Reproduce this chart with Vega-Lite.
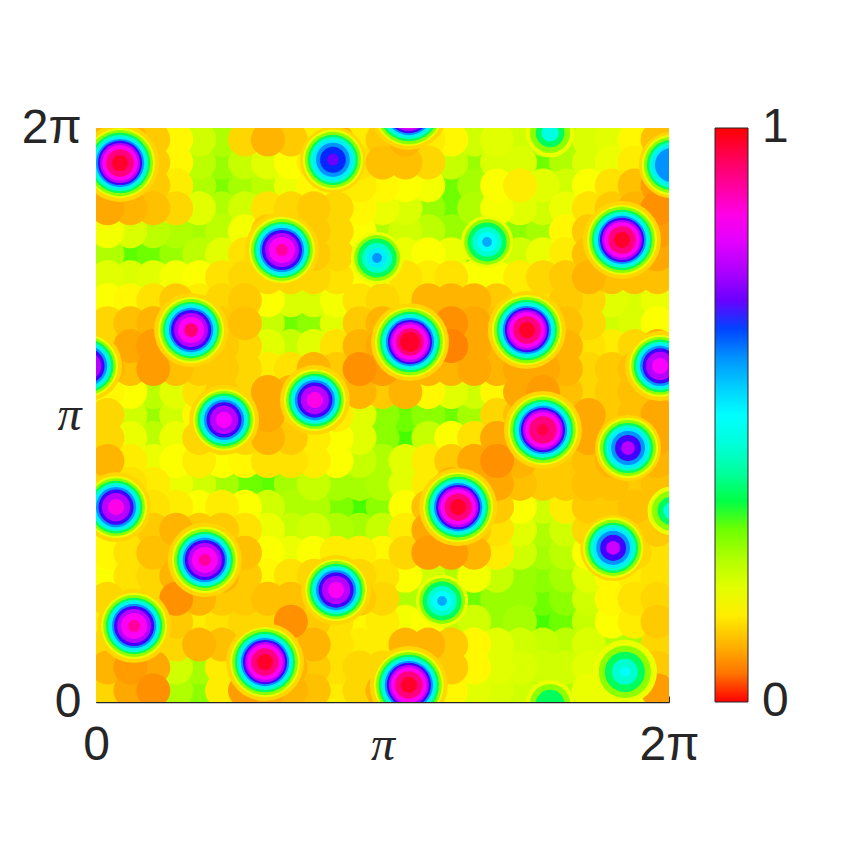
{"$schema":"https://vega.github.io/schema/vega-lite/v6.json","autosize":{"type":"none"},"width":573,"height":574,"padding":{"left":96,"top":128,"right":191,"bottom":158},"background":"white","config":{"view":{"stroke":null}},"datasets":{"barlabels":[{"x":2.325,"y":2,"t":"1"},{"x":2.325,"y":0,"t":"0"}],"grid":[
{"x":0.04,"y":1.96,"v":0.1},{"x":0.12,"y":1.96,"v":0.1},{"x":0.2,"y":1.96,"v":0.12},{"x":0.28,"y":1.96,"v":0.16},{"x":0.36,"y":1.96,"v":0.22},{"x":0.44,"y":1.96,"v":0.25},{"x":0.52,"y":1.96,"v":0.13},{"x":0.6,"y":1.96,"v":0.1},{"x":0.68,"y":1.96,"v":0.12},{"x":0.76,"y":1.96,"v":0.15},{"x":0.84,"y":1.96,"v":0.1},{"x":0.92,"y":1.96,"v":0.15},{"x":1,"y":1.96,"v":0.12},{"x":1.08,"y":1.96,"v":0.1},{"x":1.16,"y":1.96,"v":0.15},{"x":1.24,"y":1.96,"v":0.16},{"x":1.32,"y":1.96,"v":0.22},{"x":1.4,"y":1.96,"v":0.2},{"x":1.48,"y":1.96,"v":0.22},{"x":1.56,"y":1.96,"v":0.25},{"x":1.64,"y":1.96,"v":0.25},{"x":1.72,"y":1.96,"v":0.21},{"x":1.8,"y":1.96,"v":0.2},{"x":1.88,"y":1.96,"v":0.16},{"x":1.96,"y":1.96,"v":0.11},
{"x":0.04,"y":1.88,"v":0.1},{"x":0.12,"y":1.88,"v":0.1},{"x":0.2,"y":1.88,"v":0.12},{"x":0.28,"y":1.88,"v":0.16},{"x":0.36,"y":1.88,"v":0.24},{"x":0.44,"y":1.88,"v":0.27},{"x":0.52,"y":1.88,"v":0.23},{"x":0.6,"y":1.88,"v":0.2},{"x":0.68,"y":1.88,"v":0.17},{"x":0.76,"y":1.88,"v":0.15},{"x":0.84,"y":1.88,"v":0.1},{"x":0.92,"y":1.88,"v":0.14},{"x":1,"y":1.88,"v":0.11},{"x":1.08,"y":1.88,"v":0.11},{"x":1.16,"y":1.88,"v":0.13},{"x":1.24,"y":1.88,"v":0.23},{"x":1.32,"y":1.88,"v":0.27},{"x":1.4,"y":1.88,"v":0.21},{"x":1.48,"y":1.88,"v":0.21},{"x":1.56,"y":1.88,"v":0.3},{"x":1.64,"y":1.88,"v":0.25},{"x":1.72,"y":1.88,"v":0.21},{"x":1.8,"y":1.88,"v":0.19},{"x":1.88,"y":1.88,"v":0.15},{"x":1.96,"y":1.88,"v":0.1},
{"x":0.04,"y":1.8,"v":0.1},{"x":0.12,"y":1.8,"v":0.11},{"x":0.2,"y":1.8,"v":0.12},{"x":0.28,"y":1.8,"v":0.15},{"x":0.36,"y":1.8,"v":0.25},{"x":0.44,"y":1.8,"v":0.29},{"x":0.52,"y":1.8,"v":0.26},{"x":0.6,"y":1.8,"v":0.24},{"x":0.68,"y":1.8,"v":0.19},{"x":0.76,"y":1.8,"v":0.16},{"x":0.84,"y":1.8,"v":0.16},{"x":0.92,"y":1.8,"v":0.15},{"x":1,"y":1.8,"v":0.16},{"x":1.08,"y":1.8,"v":0.17},{"x":1.16,"y":1.8,"v":0.18},{"x":1.24,"y":1.8,"v":0.3},{"x":1.32,"y":1.8,"v":0.26},{"x":1.4,"y":1.8,"v":0.17},{"x":1.48,"y":1.8,"v":0.15},{"x":1.56,"y":1.8,"v":0.2},{"x":1.64,"y":1.8,"v":0.22},{"x":1.72,"y":1.8,"v":0.17},{"x":1.8,"y":1.8,"v":0.14},{"x":1.88,"y":1.8,"v":0.11},{"x":1.96,"y":1.8,"v":0.08},
{"x":0.04,"y":1.72,"v":0.09},{"x":0.12,"y":1.72,"v":0.1},{"x":0.2,"y":1.72,"v":0.11},{"x":0.28,"y":1.72,"v":0.13},{"x":0.36,"y":1.72,"v":0.2},{"x":0.44,"y":1.72,"v":0.25},{"x":0.52,"y":1.72,"v":0.22},{"x":0.6,"y":1.72,"v":0.14},{"x":0.68,"y":1.72,"v":0.13},{"x":0.76,"y":1.72,"v":0.12},{"x":0.84,"y":1.72,"v":0.13},{"x":0.92,"y":1.72,"v":0.16},{"x":1,"y":1.72,"v":0.19},{"x":1.08,"y":1.72,"v":0.21},{"x":1.16,"y":1.72,"v":0.27},{"x":1.24,"y":1.72,"v":0.3},{"x":1.32,"y":1.72,"v":0.25},{"x":1.4,"y":1.72,"v":0.18},{"x":1.48,"y":1.72,"v":0.2},{"x":1.56,"y":1.72,"v":0.22},{"x":1.64,"y":1.72,"v":0.19},{"x":1.72,"y":1.72,"v":0.14},{"x":1.8,"y":1.72,"v":0.12},{"x":1.88,"y":1.72,"v":0.1},{"x":1.96,"y":1.72,"v":0.07},
{"x":0.04,"y":1.64,"v":0.18},{"x":0.12,"y":1.64,"v":0.21},{"x":0.2,"y":1.64,"v":0.24},{"x":0.28,"y":1.64,"v":0.25},{"x":0.36,"y":1.64,"v":0.26},{"x":0.44,"y":1.64,"v":0.24},{"x":0.52,"y":1.64,"v":0.18},{"x":0.6,"y":1.64,"v":0.12},{"x":0.68,"y":1.64,"v":0.12},{"x":0.76,"y":1.64,"v":0.12},{"x":0.84,"y":1.64,"v":0.13},{"x":0.92,"y":1.64,"v":0.17},{"x":1,"y":1.64,"v":0.25},{"x":1.08,"y":1.64,"v":0.22},{"x":1.16,"y":1.64,"v":0.24},{"x":1.24,"y":1.64,"v":0.27},{"x":1.32,"y":1.64,"v":0.3},{"x":1.4,"y":1.64,"v":0.3},{"x":1.48,"y":1.64,"v":0.28},{"x":1.56,"y":1.64,"v":0.26},{"x":1.64,"y":1.64,"v":0.16},{"x":1.72,"y":1.64,"v":0.12},{"x":1.8,"y":1.64,"v":0.1},{"x":1.88,"y":1.64,"v":0.1},{"x":1.96,"y":1.64,"v":0.08},
{"x":0.04,"y":1.56,"v":0.25},{"x":0.12,"y":1.56,"v":0.31},{"x":0.2,"y":1.56,"v":0.3},{"x":0.28,"y":1.56,"v":0.27},{"x":0.36,"y":1.56,"v":0.24},{"x":0.44,"y":1.56,"v":0.2},{"x":0.52,"y":1.56,"v":0.14},{"x":0.6,"y":1.56,"v":0.12},{"x":0.68,"y":1.56,"v":0.12},{"x":0.76,"y":1.56,"v":0.12},{"x":0.84,"y":1.56,"v":0.13},{"x":0.92,"y":1.56,"v":0.23},{"x":1,"y":1.56,"v":0.3},{"x":1.08,"y":1.56,"v":0.19},{"x":1.16,"y":1.56,"v":0.17},{"x":1.24,"y":1.56,"v":0.19},{"x":1.32,"y":1.56,"v":0.32},{"x":1.4,"y":1.56,"v":0.33},{"x":1.48,"y":1.56,"v":0.22},{"x":1.56,"y":1.56,"v":0.19},{"x":1.64,"y":1.56,"v":0.15},{"x":1.72,"y":1.56,"v":0.11},{"x":1.8,"y":1.56,"v":0.1},{"x":1.88,"y":1.56,"v":0.1},{"x":1.96,"y":1.56,"v":0.09},
{"x":0.04,"y":1.48,"v":0.2},{"x":0.12,"y":1.48,"v":0.21},{"x":0.2,"y":1.48,"v":0.2},{"x":0.28,"y":1.48,"v":0.18},{"x":0.36,"y":1.48,"v":0.17},{"x":0.44,"y":1.48,"v":0.14},{"x":0.52,"y":1.48,"v":0.13},{"x":0.6,"y":1.48,"v":0.13},{"x":0.68,"y":1.48,"v":0.13},{"x":0.76,"y":1.48,"v":0.13},{"x":0.84,"y":1.48,"v":0.14},{"x":0.92,"y":1.48,"v":0.17},{"x":1,"y":1.48,"v":0.19},{"x":1.08,"y":1.48,"v":0.14},{"x":1.16,"y":1.48,"v":0.15},{"x":1.24,"y":1.48,"v":0.14},{"x":1.32,"y":1.48,"v":0.17},{"x":1.4,"y":1.48,"v":0.17},{"x":1.48,"y":1.48,"v":0.15},{"x":1.56,"y":1.48,"v":0.13},{"x":1.64,"y":1.48,"v":0.12},{"x":1.72,"y":1.48,"v":0.1},{"x":1.8,"y":1.48,"v":0.11},{"x":1.88,"y":1.48,"v":0.11},{"x":1.96,"y":1.48,"v":0.11},
{"x":0.04,"y":1.4,"v":0.17},{"x":0.12,"y":1.4,"v":0.16},{"x":0.2,"y":1.4,"v":0.14},{"x":0.28,"y":1.4,"v":0.12},{"x":0.36,"y":1.4,"v":0.15},{"x":0.44,"y":1.4,"v":0.13},{"x":0.52,"y":1.4,"v":0.12},{"x":0.6,"y":1.4,"v":0.17},{"x":0.68,"y":1.4,"v":0.21},{"x":0.76,"y":1.4,"v":0.21},{"x":0.84,"y":1.4,"v":0.18},{"x":0.92,"y":1.4,"v":0.14},{"x":1,"y":1.4,"v":0.13},{"x":1.08,"y":1.4,"v":0.14},{"x":1.16,"y":1.4,"v":0.1},{"x":1.24,"y":1.4,"v":0.1},{"x":1.32,"y":1.4,"v":0.1},{"x":1.4,"y":1.4,"v":0.12},{"x":1.48,"y":1.4,"v":0.15},{"x":1.56,"y":1.4,"v":0.14},{"x":1.64,"y":1.4,"v":0.12},{"x":1.72,"y":1.4,"v":0.13},{"x":1.8,"y":1.4,"v":0.2},{"x":1.88,"y":1.4,"v":0.21},{"x":1.96,"y":1.4,"v":0.19},
{"x":0.04,"y":1.32,"v":0.13},{"x":0.12,"y":1.32,"v":0.11},{"x":0.2,"y":1.32,"v":0.1},{"x":0.28,"y":1.32,"v":0.12},{"x":0.36,"y":1.32,"v":0.12},{"x":0.44,"y":1.32,"v":0.12},{"x":0.52,"y":1.32,"v":0.11},{"x":0.6,"y":1.32,"v":0.23},{"x":0.68,"y":1.32,"v":0.3},{"x":0.76,"y":1.32,"v":0.28},{"x":0.84,"y":1.32,"v":0.2},{"x":0.92,"y":1.32,"v":0.12},{"x":1,"y":1.32,"v":0.1},{"x":1.08,"y":1.32,"v":0.12},{"x":1.16,"y":1.32,"v":0.1},{"x":1.24,"y":1.32,"v":0.07},{"x":1.32,"y":1.32,"v":0.09},{"x":1.4,"y":1.32,"v":0.11},{"x":1.48,"y":1.32,"v":0.12},{"x":1.56,"y":1.32,"v":0.12},{"x":1.64,"y":1.32,"v":0.11},{"x":1.72,"y":1.32,"v":0.13},{"x":1.8,"y":1.32,"v":0.22},{"x":1.88,"y":1.32,"v":0.21},{"x":1.96,"y":1.32,"v":0.17},
{"x":0.04,"y":1.24,"v":0.13},{"x":0.12,"y":1.24,"v":0.09},{"x":0.2,"y":1.24,"v":0.08},{"x":0.28,"y":1.24,"v":0.1},{"x":0.36,"y":1.24,"v":0.1},{"x":0.44,"y":1.24,"v":0.12},{"x":0.52,"y":1.24,"v":0.13},{"x":0.6,"y":1.24,"v":0.2},{"x":0.68,"y":1.24,"v":0.23},{"x":0.76,"y":1.24,"v":0.2},{"x":0.84,"y":1.24,"v":0.14},{"x":0.92,"y":1.24,"v":0.1},{"x":1,"y":1.24,"v":0.09},{"x":1.08,"y":1.24,"v":0.1},{"x":1.16,"y":1.24,"v":0.09},{"x":1.24,"y":1.24,"v":0.06},{"x":1.32,"y":1.24,"v":0.09},{"x":1.4,"y":1.24,"v":0.1},{"x":1.48,"y":1.24,"v":0.11},{"x":1.56,"y":1.24,"v":0.11},{"x":1.64,"y":1.24,"v":0.1},{"x":1.72,"y":1.24,"v":0.14},{"x":1.8,"y":1.24,"v":0.15},{"x":1.88,"y":1.24,"v":0.13},{"x":1.96,"y":1.24,"v":0.1},
{"x":0.04,"y":1.16,"v":0.1},{"x":0.12,"y":1.16,"v":0.11},{"x":0.2,"y":1.16,"v":0.08},{"x":0.28,"y":1.16,"v":0.11},{"x":0.36,"y":1.16,"v":0.12},{"x":0.44,"y":1.16,"v":0.12},{"x":0.52,"y":1.16,"v":0.13},{"x":0.6,"y":1.16,"v":0.15},{"x":0.68,"y":1.16,"v":0.14},{"x":0.76,"y":1.16,"v":0.1},{"x":0.84,"y":1.16,"v":0.12},{"x":0.92,"y":1.16,"v":0.07},{"x":1,"y":1.16,"v":0.08},{"x":1.08,"y":1.16,"v":0.1},{"x":1.16,"y":1.16,"v":0.1},{"x":1.24,"y":1.16,"v":0.1},{"x":1.32,"y":1.16,"v":0.09},{"x":1.4,"y":1.16,"v":0.1},{"x":1.48,"y":1.16,"v":0.09},{"x":1.56,"y":1.16,"v":0.09},{"x":1.64,"y":1.16,"v":0.1},{"x":1.72,"y":1.16,"v":0.13},{"x":1.8,"y":1.16,"v":0.12},{"x":1.88,"y":1.16,"v":0.11},{"x":1.96,"y":1.16,"v":0.1},
{"x":0.04,"y":1.08,"v":0.16},{"x":0.12,"y":1.08,"v":0.17},{"x":0.2,"y":1.08,"v":0.24},{"x":0.28,"y":1.08,"v":0.2},{"x":0.36,"y":1.08,"v":0.14},{"x":0.44,"y":1.08,"v":0.12},{"x":0.52,"y":1.08,"v":0.13},{"x":0.6,"y":1.08,"v":0.09},{"x":0.68,"y":1.08,"v":0.1},{"x":0.76,"y":1.08,"v":0.1},{"x":0.84,"y":1.08,"v":0.11},{"x":0.92,"y":1.08,"v":0.1},{"x":1,"y":1.08,"v":0.12},{"x":1.08,"y":1.08,"v":0.1},{"x":1.16,"y":1.08,"v":0.16},{"x":1.24,"y":1.08,"v":0.2},{"x":1.32,"y":1.08,"v":0.22},{"x":1.4,"y":1.08,"v":0.16},{"x":1.48,"y":1.08,"v":0.09},{"x":1.56,"y":1.08,"v":0.08},{"x":1.64,"y":1.08,"v":0.11},{"x":1.72,"y":1.08,"v":0.13},{"x":1.8,"y":1.08,"v":0.12},{"x":1.88,"y":1.08,"v":0.11},{"x":1.96,"y":1.08,"v":0.11},
{"x":0.04,"y":1,"v":0.13},{"x":0.12,"y":1,"v":0.22},{"x":0.2,"y":1,"v":0.27},{"x":0.28,"y":1,"v":0.22},{"x":0.36,"y":1,"v":0.16},{"x":0.44,"y":1,"v":0.13},{"x":0.52,"y":1,"v":0.13},{"x":0.6,"y":1,"v":0.09},{"x":0.68,"y":1,"v":0.13},{"x":0.76,"y":1,"v":0.12},{"x":0.84,"y":1,"v":0.15},{"x":0.92,"y":1,"v":0.2},{"x":1,"y":1,"v":0.28},{"x":1.08,"y":1,"v":0.3},{"x":1.16,"y":1,"v":0.28},{"x":1.24,"y":1,"v":0.3},{"x":1.32,"y":1,"v":0.26},{"x":1.4,"y":1,"v":0.13},{"x":1.48,"y":1,"v":0.11},{"x":1.56,"y":1,"v":0.12},{"x":1.64,"y":1,"v":0.12},{"x":1.72,"y":1,"v":0.09},{"x":1.8,"y":1,"v":0.12},{"x":1.88,"y":1,"v":0.11},{"x":1.96,"y":1,"v":0.09},
{"x":0.04,"y":0.92,"v":0.13},{"x":0.12,"y":0.92,"v":0.19},{"x":0.2,"y":0.92,"v":0.24},{"x":0.28,"y":0.92,"v":0.19},{"x":0.36,"y":0.92,"v":0.13},{"x":0.44,"y":0.92,"v":0.12},{"x":0.52,"y":0.92,"v":0.13},{"x":0.6,"y":0.92,"v":0.1},{"x":0.68,"y":0.92,"v":0.12},{"x":0.76,"y":0.92,"v":0.15},{"x":0.84,"y":0.92,"v":0.17},{"x":0.92,"y":0.92,"v":0.2},{"x":1,"y":0.92,"v":0.28},{"x":1.08,"y":0.92,"v":0.32},{"x":1.16,"y":0.92,"v":0.23},{"x":1.24,"y":0.92,"v":0.17},{"x":1.32,"y":0.92,"v":0.14},{"x":1.4,"y":0.92,"v":0.09},{"x":1.48,"y":0.92,"v":0.1},{"x":1.56,"y":0.92,"v":0.12},{"x":1.64,"y":0.92,"v":0.1},{"x":1.72,"y":0.92,"v":0.09},{"x":1.8,"y":0.92,"v":0.11},{"x":1.88,"y":0.92,"v":0.11},{"x":1.96,"y":0.92,"v":0.09},
{"x":0.04,"y":0.84,"v":0.1},{"x":0.12,"y":0.84,"v":0.15},{"x":0.2,"y":0.84,"v":0.19},{"x":0.28,"y":0.84,"v":0.17},{"x":0.36,"y":0.84,"v":0.15},{"x":0.44,"y":0.84,"v":0.17},{"x":0.52,"y":0.84,"v":0.16},{"x":0.6,"y":0.84,"v":0.14},{"x":0.68,"y":0.84,"v":0.14},{"x":0.76,"y":0.84,"v":0.15},{"x":0.84,"y":0.84,"v":0.17},{"x":0.92,"y":0.84,"v":0.23},{"x":1,"y":0.84,"v":0.25},{"x":1.08,"y":0.84,"v":0.2},{"x":1.16,"y":0.84,"v":0.15},{"x":1.24,"y":0.84,"v":0.12},{"x":1.32,"y":0.84,"v":0.09},{"x":1.4,"y":0.84,"v":0.07},{"x":1.48,"y":0.84,"v":0.1},{"x":1.56,"y":0.84,"v":0.13},{"x":1.64,"y":0.84,"v":0.12},{"x":1.72,"y":0.84,"v":0.11},{"x":1.8,"y":0.84,"v":0.1},{"x":1.88,"y":0.84,"v":0.13},{"x":1.96,"y":0.84,"v":0.1},
{"x":0.04,"y":0.76,"v":0.13},{"x":0.12,"y":0.76,"v":0.14},{"x":0.2,"y":0.76,"v":0.15},{"x":0.28,"y":0.76,"v":0.19},{"x":0.36,"y":0.76,"v":0.22},{"x":0.44,"y":0.76,"v":0.26},{"x":0.52,"y":0.76,"v":0.3},{"x":0.6,"y":0.76,"v":0.31},{"x":0.68,"y":0.76,"v":0.26},{"x":0.76,"y":0.76,"v":0.23},{"x":0.84,"y":0.76,"v":0.26},{"x":0.92,"y":0.76,"v":0.26},{"x":1,"y":0.76,"v":0.25},{"x":1.08,"y":0.76,"v":0.2},{"x":1.16,"y":0.76,"v":0.15},{"x":1.24,"y":0.76,"v":0.1},{"x":1.32,"y":0.76,"v":0.1},{"x":1.4,"y":0.76,"v":0.09},{"x":1.48,"y":0.76,"v":0.11},{"x":1.56,"y":0.76,"v":0.12},{"x":1.64,"y":0.76,"v":0.12},{"x":1.72,"y":0.76,"v":0.11},{"x":1.8,"y":0.76,"v":0.11},{"x":1.88,"y":0.76,"v":0.12},{"x":1.96,"y":0.76,"v":0.11},
{"x":0.04,"y":0.68,"v":0.1},{"x":0.12,"y":0.68,"v":0.1},{"x":0.2,"y":0.68,"v":0.14},{"x":0.28,"y":0.68,"v":0.15},{"x":0.36,"y":0.68,"v":0.17},{"x":0.44,"y":0.68,"v":0.15},{"x":0.52,"y":0.68,"v":0.17},{"x":0.6,"y":0.68,"v":0.22},{"x":0.68,"y":0.68,"v":0.25},{"x":0.76,"y":0.68,"v":0.25},{"x":0.84,"y":0.68,"v":0.29},{"x":0.92,"y":0.68,"v":0.32},{"x":1,"y":0.68,"v":0.28},{"x":1.08,"y":0.68,"v":0.17},{"x":1.16,"y":0.68,"v":0.11},{"x":1.24,"y":0.68,"v":0.1},{"x":1.32,"y":0.68,"v":0.1},{"x":1.4,"y":0.68,"v":0.12},{"x":1.48,"y":0.68,"v":0.17},{"x":1.56,"y":0.68,"v":0.22},{"x":1.64,"y":0.68,"v":0.15},{"x":1.72,"y":0.68,"v":0.12},{"x":1.8,"y":0.68,"v":0.12},{"x":1.88,"y":0.68,"v":0.11},{"x":1.96,"y":0.68,"v":0.12},
{"x":0.04,"y":0.6,"v":0.17},{"x":0.12,"y":0.6,"v":0.14},{"x":0.2,"y":0.6,"v":0.12},{"x":0.28,"y":0.6,"v":0.1},{"x":0.36,"y":0.6,"v":0.12},{"x":0.44,"y":0.6,"v":0.12},{"x":0.52,"y":0.6,"v":0.14},{"x":0.6,"y":0.6,"v":0.19},{"x":0.68,"y":0.6,"v":0.23},{"x":0.76,"y":0.6,"v":0.22},{"x":0.84,"y":0.6,"v":0.25},{"x":0.92,"y":0.6,"v":0.26},{"x":1,"y":0.6,"v":0.23},{"x":1.08,"y":0.6,"v":0.15},{"x":1.16,"y":0.6,"v":0.09},{"x":1.24,"y":0.6,"v":0.1},{"x":1.32,"y":0.6,"v":0.12},{"x":1.4,"y":0.6,"v":0.14},{"x":1.48,"y":0.6,"v":0.2},{"x":1.56,"y":0.6,"v":0.25},{"x":1.64,"y":0.6,"v":0.22},{"x":1.72,"y":0.6,"v":0.13},{"x":1.8,"y":0.6,"v":0.12},{"x":1.88,"y":0.6,"v":0.12},{"x":1.96,"y":0.6,"v":0.12},
{"x":0.04,"y":0.52,"v":0.16},{"x":0.12,"y":0.52,"v":0.14},{"x":0.2,"y":0.52,"v":0.11},{"x":0.28,"y":0.52,"v":0.12},{"x":0.36,"y":0.52,"v":0.12},{"x":0.44,"y":0.52,"v":0.12},{"x":0.52,"y":0.52,"v":0.11},{"x":0.6,"y":0.52,"v":0.17},{"x":0.68,"y":0.52,"v":0.19},{"x":0.76,"y":0.52,"v":0.17},{"x":0.84,"y":0.52,"v":0.15},{"x":0.92,"y":0.52,"v":0.15},{"x":1,"y":0.52,"v":0.16},{"x":1.08,"y":0.52,"v":0.13},{"x":1.16,"y":0.52,"v":0.08},{"x":1.24,"y":0.52,"v":0.08},{"x":1.32,"y":0.52,"v":0.1},{"x":1.4,"y":0.52,"v":0.15},{"x":1.48,"y":0.52,"v":0.22},{"x":1.56,"y":0.52,"v":0.26},{"x":1.64,"y":0.52,"v":0.24},{"x":1.72,"y":0.52,"v":0.17},{"x":1.8,"y":0.52,"v":0.14},{"x":1.88,"y":0.52,"v":0.13},{"x":1.96,"y":0.52,"v":0.14},
{"x":0.04,"y":0.44,"v":0.17},{"x":0.12,"y":0.44,"v":0.14},{"x":0.2,"y":0.44,"v":0.13},{"x":0.28,"y":0.44,"v":0.1},{"x":0.36,"y":0.44,"v":0.1},{"x":0.44,"y":0.44,"v":0.1},{"x":0.52,"y":0.44,"v":0.12},{"x":0.6,"y":0.44,"v":0.16},{"x":0.68,"y":0.44,"v":0.14},{"x":0.76,"y":0.44,"v":0.13},{"x":0.84,"y":0.44,"v":0.13},{"x":0.92,"y":0.44,"v":0.13},{"x":1,"y":0.44,"v":0.14},{"x":1.08,"y":0.44,"v":0.17},{"x":1.16,"y":0.44,"v":0.22},{"x":1.24,"y":0.44,"v":0.25},{"x":1.32,"y":0.44,"v":0.18},{"x":1.4,"y":0.44,"v":0.23},{"x":1.48,"y":0.44,"v":0.27},{"x":1.56,"y":0.44,"v":0.28},{"x":1.64,"y":0.44,"v":0.26},{"x":1.72,"y":0.44,"v":0.2},{"x":1.8,"y":0.44,"v":0.16},{"x":1.88,"y":0.44,"v":0.15},{"x":1.96,"y":0.44,"v":0.14},
{"x":0.04,"y":0.36,"v":0.13},{"x":0.12,"y":0.36,"v":0.15},{"x":0.2,"y":0.36,"v":0.13},{"x":0.28,"y":0.36,"v":0.07},{"x":0.36,"y":0.36,"v":0.1},{"x":0.44,"y":0.36,"v":0.12},{"x":0.52,"y":0.36,"v":0.12},{"x":0.6,"y":0.36,"v":0.11},{"x":0.68,"y":0.36,"v":0.11},{"x":0.76,"y":0.36,"v":0.12},{"x":0.84,"y":0.36,"v":0.12},{"x":0.92,"y":0.36,"v":0.12},{"x":1,"y":0.36,"v":0.13},{"x":1.08,"y":0.36,"v":0.25},{"x":1.16,"y":0.36,"v":0.32},{"x":1.24,"y":0.36,"v":0.33},{"x":1.32,"y":0.36,"v":0.3},{"x":1.4,"y":0.36,"v":0.27},{"x":1.48,"y":0.36,"v":0.27},{"x":1.56,"y":0.36,"v":0.3},{"x":1.64,"y":0.36,"v":0.28},{"x":1.72,"y":0.36,"v":0.22},{"x":1.8,"y":0.36,"v":0.16},{"x":1.88,"y":0.36,"v":0.14},{"x":1.96,"y":0.36,"v":0.13},
{"x":0.04,"y":0.28,"v":0.15},{"x":0.12,"y":0.28,"v":0.14},{"x":0.2,"y":0.28,"v":0.14},{"x":0.28,"y":0.28,"v":0.12},{"x":0.36,"y":0.28,"v":0.15},{"x":0.44,"y":0.28,"v":0.14},{"x":0.52,"y":0.28,"v":0.13},{"x":0.6,"y":0.28,"v":0.13},{"x":0.68,"y":0.28,"v":0.07},{"x":0.76,"y":0.28,"v":0.12},{"x":0.84,"y":0.28,"v":0.14},{"x":0.92,"y":0.28,"v":0.16},{"x":1,"y":0.28,"v":0.15},{"x":1.08,"y":0.28,"v":0.18},{"x":1.16,"y":0.28,"v":0.17},{"x":1.24,"y":0.28,"v":0.24},{"x":1.32,"y":0.28,"v":0.22},{"x":1.4,"y":0.28,"v":0.27},{"x":1.48,"y":0.28,"v":0.26},{"x":1.56,"y":0.28,"v":0.32},{"x":1.64,"y":0.28,"v":0.3},{"x":1.72,"y":0.28,"v":0.23},{"x":1.8,"y":0.28,"v":0.17},{"x":1.88,"y":0.28,"v":0.15},{"x":1.96,"y":0.28,"v":0.12},
{"x":0.04,"y":0.2,"v":0.13},{"x":0.12,"y":0.2,"v":0.13},{"x":0.2,"y":0.2,"v":0.14},{"x":0.28,"y":0.2,"v":0.13},{"x":0.36,"y":0.2,"v":0.1},{"x":0.44,"y":0.2,"v":0.11},{"x":0.52,"y":0.2,"v":0.14},{"x":0.6,"y":0.2,"v":0.13},{"x":0.68,"y":0.2,"v":0.12},{"x":0.76,"y":0.2,"v":0.1},{"x":0.84,"y":0.2,"v":0.14},{"x":0.92,"y":0.2,"v":0.15},{"x":1,"y":0.2,"v":0.15},{"x":1.08,"y":0.2,"v":0.1},{"x":1.16,"y":0.2,"v":0.1},{"x":1.24,"y":0.2,"v":0.12},{"x":1.32,"y":0.2,"v":0.16},{"x":1.4,"y":0.2,"v":0.2},{"x":1.48,"y":0.2,"v":0.22},{"x":1.56,"y":0.2,"v":0.23},{"x":1.64,"y":0.2,"v":0.24},{"x":1.72,"y":0.2,"v":0.21},{"x":1.8,"y":0.2,"v":0.25},{"x":1.88,"y":0.2,"v":0.26},{"x":1.96,"y":0.2,"v":0.13},
{"x":0.04,"y":0.12,"v":0.1},{"x":0.12,"y":0.12,"v":0.08},{"x":0.2,"y":0.12,"v":0.09},{"x":0.28,"y":0.12,"v":0.22},{"x":0.36,"y":0.12,"v":0.26},{"x":0.44,"y":0.12,"v":0.15},{"x":0.52,"y":0.12,"v":0.1},{"x":0.6,"y":0.12,"v":0.1},{"x":0.68,"y":0.12,"v":0.1},{"x":0.76,"y":0.12,"v":0.12},{"x":0.84,"y":0.12,"v":0.14},{"x":0.92,"y":0.12,"v":0.13},{"x":1,"y":0.12,"v":0.13},{"x":1.08,"y":0.12,"v":0.12},{"x":1.16,"y":0.12,"v":0.12},{"x":1.24,"y":0.12,"v":0.12},{"x":1.32,"y":0.12,"v":0.16},{"x":1.4,"y":0.12,"v":0.2},{"x":1.48,"y":0.12,"v":0.21},{"x":1.56,"y":0.12,"v":0.22},{"x":1.64,"y":0.12,"v":0.22},{"x":1.72,"y":0.12,"v":0.2},{"x":1.8,"y":0.12,"v":0.3},{"x":1.88,"y":0.12,"v":0.35},{"x":1.96,"y":0.12,"v":0.12},
{"x":0.04,"y":0.04,"v":0.13},{"x":0.12,"y":0.04,"v":0.09},{"x":0.2,"y":0.04,"v":0.07},{"x":0.28,"y":0.04,"v":0.25},{"x":0.36,"y":0.04,"v":0.28},{"x":0.44,"y":0.04,"v":0.15},{"x":0.52,"y":0.04,"v":0.08},{"x":0.6,"y":0.04,"v":0.09},{"x":0.68,"y":0.04,"v":0.1},{"x":0.76,"y":0.04,"v":0.11},{"x":0.84,"y":0.04,"v":0.15},{"x":0.92,"y":0.04,"v":0.13},{"x":1,"y":0.04,"v":0.1},{"x":1.08,"y":0.04,"v":0.1},{"x":1.16,"y":0.04,"v":0.13},{"x":1.24,"y":0.04,"v":0.16},{"x":1.32,"y":0.04,"v":0.2},{"x":1.4,"y":0.04,"v":0.21},{"x":1.48,"y":0.04,"v":0.22},{"x":1.56,"y":0.04,"v":0.3},{"x":1.64,"y":0.04,"v":0.25},{"x":1.72,"y":0.04,"v":0.19},{"x":1.8,"y":0.04,"v":0.19},{"x":1.88,"y":0.04,"v":0.17},{"x":1.96,"y":0.04,"v":0.08}
],"rings":[
{"x":0.084,"y":1.878,"r":0.136,"v":0.13},{"x":0.084,"y":1.878,"r":0.122,"v":0.19},{"x":0.084,"y":1.878,"r":0.115,"v":0.28},{"x":0.084,"y":1.878,"r":0.105,"v":0.36},{"x":0.084,"y":1.878,"r":0.098,"v":0.44},{"x":0.084,"y":1.878,"r":0.089,"v":0.52},{"x":0.084,"y":1.878,"r":0.084,"v":0.6},{"x":0.084,"y":1.878,"r":0.077,"v":0.68},{"x":0.084,"y":1.878,"r":0.07,"v":0.76},{"x":0.084,"y":1.878,"r":0.062,"v":0.84},{"x":0.084,"y":1.878,"r":0.048,"v":0.92},{"x":0.084,"y":1.878,"r":0.028,"v":0.98},
{"x":1.092,"y":2.059,"r":0.136,"v":0.13},{"x":1.092,"y":2.059,"r":0.122,"v":0.19},{"x":1.092,"y":2.059,"r":0.115,"v":0.28},{"x":1.092,"y":2.059,"r":0.105,"v":0.36},{"x":1.092,"y":2.059,"r":0.098,"v":0.44},{"x":1.092,"y":2.059,"r":0.089,"v":0.52},{"x":1.092,"y":2.059,"r":0.084,"v":0.6},{"x":1.092,"y":2.059,"r":0.077,"v":0.68},{"x":1.092,"y":2.059,"r":0.07,"v":0.76},{"x":1.092,"y":2.059,"r":0.062,"v":0.84},
{"x":1.092,"y":0.059,"r":0.136,"v":0.13},{"x":1.092,"y":0.059,"r":0.122,"v":0.19},{"x":1.092,"y":0.059,"r":0.115,"v":0.28},{"x":1.092,"y":0.059,"r":0.105,"v":0.36},{"x":1.092,"y":0.059,"r":0.098,"v":0.44},{"x":1.092,"y":0.059,"r":0.089,"v":0.52},{"x":1.092,"y":0.059,"r":0.084,"v":0.6},{"x":1.092,"y":0.059,"r":0.077,"v":0.68},{"x":1.092,"y":0.059,"r":0.07,"v":0.76},{"x":1.092,"y":0.059,"r":0.062,"v":0.84},{"x":1.092,"y":0.059,"r":0.048,"v":0.92},{"x":1.092,"y":0.059,"r":0.028,"v":0.98},
{"x":1.836,"y":1.61,"r":0.136,"v":0.13},{"x":1.836,"y":1.61,"r":0.122,"v":0.19},{"x":1.836,"y":1.61,"r":0.115,"v":0.28},{"x":1.836,"y":1.61,"r":0.105,"v":0.36},{"x":1.836,"y":1.61,"r":0.098,"v":0.44},{"x":1.836,"y":1.61,"r":0.089,"v":0.52},{"x":1.836,"y":1.61,"r":0.084,"v":0.6},{"x":1.836,"y":1.61,"r":0.077,"v":0.68},{"x":1.836,"y":1.61,"r":0.07,"v":0.76},{"x":1.836,"y":1.61,"r":0.062,"v":0.84},{"x":1.836,"y":1.61,"r":0.048,"v":0.92},{"x":1.836,"y":1.61,"r":0.028,"v":0.98},
{"x":1.096,"y":1.254,"r":0.136,"v":0.13},{"x":1.096,"y":1.254,"r":0.122,"v":0.19},{"x":1.096,"y":1.254,"r":0.115,"v":0.28},{"x":1.096,"y":1.254,"r":0.105,"v":0.36},{"x":1.096,"y":1.254,"r":0.098,"v":0.44},{"x":1.096,"y":1.254,"r":0.089,"v":0.52},{"x":1.096,"y":1.254,"r":0.084,"v":0.6},{"x":1.096,"y":1.254,"r":0.077,"v":0.68},{"x":1.096,"y":1.254,"r":0.07,"v":0.76},{"x":1.096,"y":1.254,"r":0.062,"v":0.84},{"x":1.096,"y":1.254,"r":0.048,"v":0.92},{"x":1.096,"y":1.254,"r":0.035,"v":0.98},
{"x":1.504,"y":1.296,"r":0.136,"v":0.13},{"x":1.504,"y":1.296,"r":0.122,"v":0.19},{"x":1.504,"y":1.296,"r":0.115,"v":0.28},{"x":1.504,"y":1.296,"r":0.105,"v":0.36},{"x":1.504,"y":1.296,"r":0.098,"v":0.44},{"x":1.504,"y":1.296,"r":0.089,"v":0.52},{"x":1.504,"y":1.296,"r":0.084,"v":0.6},{"x":1.504,"y":1.296,"r":0.077,"v":0.68},{"x":1.504,"y":1.296,"r":0.07,"v":0.76},{"x":1.504,"y":1.296,"r":0.062,"v":0.84},{"x":1.504,"y":1.296,"r":0.048,"v":0.92},{"x":1.504,"y":1.296,"r":0.028,"v":0.98},
{"x":1.56,"y":0.948,"r":0.136,"v":0.13},{"x":1.56,"y":0.948,"r":0.122,"v":0.19},{"x":1.56,"y":0.948,"r":0.115,"v":0.28},{"x":1.56,"y":0.948,"r":0.105,"v":0.36},{"x":1.56,"y":0.948,"r":0.098,"v":0.44},{"x":1.56,"y":0.948,"r":0.089,"v":0.52},{"x":1.56,"y":0.948,"r":0.084,"v":0.6},{"x":1.56,"y":0.948,"r":0.077,"v":0.68},{"x":1.56,"y":0.948,"r":0.07,"v":0.76},{"x":1.56,"y":0.948,"r":0.062,"v":0.84},{"x":1.56,"y":0.948,"r":0.048,"v":0.92},{"x":1.56,"y":0.948,"r":0.02,"v":0.96},
{"x":1.264,"y":0.679,"r":0.136,"v":0.13},{"x":1.264,"y":0.679,"r":0.122,"v":0.19},{"x":1.264,"y":0.679,"r":0.115,"v":0.28},{"x":1.264,"y":0.679,"r":0.105,"v":0.36},{"x":1.264,"y":0.679,"r":0.098,"v":0.44},{"x":1.264,"y":0.679,"r":0.089,"v":0.52},{"x":1.264,"y":0.679,"r":0.084,"v":0.6},{"x":1.264,"y":0.679,"r":0.077,"v":0.68},{"x":1.264,"y":0.679,"r":0.07,"v":0.76},{"x":1.264,"y":0.679,"r":0.062,"v":0.84},{"x":1.264,"y":0.679,"r":0.048,"v":0.92},{"x":1.264,"y":0.679,"r":0.028,"v":0.98},
{"x":0.59,"y":0.139,"r":0.136,"v":0.13},{"x":0.59,"y":0.139,"r":0.122,"v":0.19},{"x":0.59,"y":0.139,"r":0.115,"v":0.28},{"x":0.59,"y":0.139,"r":0.105,"v":0.36},{"x":0.59,"y":0.139,"r":0.098,"v":0.44},{"x":0.59,"y":0.139,"r":0.089,"v":0.52},{"x":0.59,"y":0.139,"r":0.084,"v":0.6},{"x":0.59,"y":0.139,"r":0.077,"v":0.68},{"x":0.59,"y":0.139,"r":0.07,"v":0.76},{"x":0.59,"y":0.139,"r":0.062,"v":0.84},{"x":0.59,"y":0.139,"r":0.048,"v":0.92},{"x":0.59,"y":0.139,"r":0.028,"v":0.98},
{"x":0.649,"y":1.575,"r":0.129,"v":0.13},{"x":0.649,"y":1.575,"r":0.115,"v":0.19},{"x":0.649,"y":1.575,"r":0.108,"v":0.28},{"x":0.649,"y":1.575,"r":0.098,"v":0.36},{"x":0.649,"y":1.575,"r":0.091,"v":0.44},{"x":0.649,"y":1.575,"r":0.084,"v":0.52},{"x":0.649,"y":1.575,"r":0.077,"v":0.6},{"x":0.649,"y":1.575,"r":0.07,"v":0.68},{"x":0.649,"y":1.575,"r":0.059,"v":0.76},{"x":0.649,"y":1.575,"r":0.045,"v":0.84},{"x":0.649,"y":1.575,"r":0.021,"v":0.9},
{"x":0.332,"y":1.296,"r":0.129,"v":0.13},{"x":0.332,"y":1.296,"r":0.115,"v":0.19},{"x":0.332,"y":1.296,"r":0.108,"v":0.28},{"x":0.332,"y":1.296,"r":0.098,"v":0.36},{"x":0.332,"y":1.296,"r":0.091,"v":0.44},{"x":0.332,"y":1.296,"r":0.084,"v":0.52},{"x":0.332,"y":1.296,"r":0.077,"v":0.6},{"x":0.332,"y":1.296,"r":0.07,"v":0.68},{"x":0.332,"y":1.296,"r":0.059,"v":0.76},{"x":0.332,"y":1.296,"r":0.045,"v":0.84},{"x":0.332,"y":1.296,"r":0.024,"v":0.93},
{"x":0.38,"y":0.495,"r":0.129,"v":0.13},{"x":0.38,"y":0.495,"r":0.115,"v":0.19},{"x":0.38,"y":0.495,"r":0.108,"v":0.28},{"x":0.38,"y":0.495,"r":0.098,"v":0.36},{"x":0.38,"y":0.495,"r":0.091,"v":0.44},{"x":0.38,"y":0.495,"r":0.084,"v":0.52},{"x":0.38,"y":0.495,"r":0.077,"v":0.6},{"x":0.38,"y":0.495,"r":0.07,"v":0.68},{"x":0.38,"y":0.495,"r":0.059,"v":0.76},{"x":0.38,"y":0.495,"r":0.045,"v":0.84},{"x":0.38,"y":0.495,"r":0.021,"v":0.9},
{"x":0.133,"y":0.265,"r":0.129,"v":0.13},{"x":0.133,"y":0.265,"r":0.115,"v":0.19},{"x":0.133,"y":0.265,"r":0.108,"v":0.28},{"x":0.133,"y":0.265,"r":0.098,"v":0.36},{"x":0.133,"y":0.265,"r":0.091,"v":0.44},{"x":0.133,"y":0.265,"r":0.084,"v":0.52},{"x":0.133,"y":0.265,"r":0.077,"v":0.6},{"x":0.133,"y":0.265,"r":0.07,"v":0.68},{"x":0.133,"y":0.265,"r":0.059,"v":0.76},{"x":0.133,"y":0.265,"r":0.045,"v":0.84},{"x":0.133,"y":0.265,"r":0.021,"v":0.9},
{"x":-0.031,"y":1.171,"r":0.122,"v":0.13},{"x":-0.031,"y":1.171,"r":0.108,"v":0.19},{"x":-0.031,"y":1.171,"r":0.101,"v":0.28},{"x":-0.031,"y":1.171,"r":0.092,"v":0.36},{"x":-0.031,"y":1.171,"r":0.084,"v":0.44},{"x":-0.031,"y":1.171,"r":0.077,"v":0.52},{"x":-0.031,"y":1.171,"r":0.07,"v":0.6},{"x":-0.031,"y":1.171,"r":0.061,"v":0.68},{"x":-0.031,"y":1.171,"r":0.049,"v":0.76},
{"x":1.969,"y":1.171,"r":0.122,"v":0.13},{"x":1.969,"y":1.171,"r":0.108,"v":0.19},{"x":1.969,"y":1.171,"r":0.101,"v":0.28},{"x":1.969,"y":1.171,"r":0.092,"v":0.36},{"x":1.969,"y":1.171,"r":0.084,"v":0.44},{"x":1.969,"y":1.171,"r":0.077,"v":0.52},{"x":1.969,"y":1.171,"r":0.07,"v":0.6},{"x":1.969,"y":1.171,"r":0.061,"v":0.68},{"x":1.969,"y":1.171,"r":0.049,"v":0.76},{"x":1.969,"y":1.171,"r":0.028,"v":0.83},
{"x":0.447,"y":0.983,"r":0.122,"v":0.13},{"x":0.447,"y":0.983,"r":0.108,"v":0.19},{"x":0.447,"y":0.983,"r":0.101,"v":0.28},{"x":0.447,"y":0.983,"r":0.092,"v":0.36},{"x":0.447,"y":0.983,"r":0.084,"v":0.44},{"x":0.447,"y":0.983,"r":0.077,"v":0.52},{"x":0.447,"y":0.983,"r":0.07,"v":0.6},{"x":0.447,"y":0.983,"r":0.061,"v":0.68},{"x":0.447,"y":0.983,"r":0.049,"v":0.76},{"x":0.447,"y":0.983,"r":0.028,"v":0.83},
{"x":0.764,"y":1.052,"r":0.122,"v":0.13},{"x":0.764,"y":1.052,"r":0.108,"v":0.19},{"x":0.764,"y":1.052,"r":0.101,"v":0.28},{"x":0.764,"y":1.052,"r":0.092,"v":0.36},{"x":0.764,"y":1.052,"r":0.084,"v":0.44},{"x":0.764,"y":1.052,"r":0.077,"v":0.52},{"x":0.764,"y":1.052,"r":0.07,"v":0.6},{"x":0.764,"y":1.052,"r":0.061,"v":0.68},{"x":0.764,"y":1.052,"r":0.049,"v":0.76},{"x":0.764,"y":1.052,"r":0.028,"v":0.85},
{"x":0.07,"y":0.679,"r":0.122,"v":0.13},{"x":0.07,"y":0.679,"r":0.108,"v":0.19},{"x":0.07,"y":0.679,"r":0.101,"v":0.28},{"x":0.07,"y":0.679,"r":0.092,"v":0.36},{"x":0.07,"y":0.679,"r":0.084,"v":0.44},{"x":0.07,"y":0.679,"r":0.077,"v":0.52},{"x":0.07,"y":0.679,"r":0.07,"v":0.6},{"x":0.07,"y":0.679,"r":0.061,"v":0.68},{"x":0.07,"y":0.679,"r":0.049,"v":0.76},{"x":0.07,"y":0.679,"r":0.028,"v":0.85},
{"x":0.838,"y":0.39,"r":0.122,"v":0.13},{"x":0.838,"y":0.39,"r":0.108,"v":0.19},{"x":0.838,"y":0.39,"r":0.101,"v":0.28},{"x":0.838,"y":0.39,"r":0.092,"v":0.36},{"x":0.838,"y":0.39,"r":0.084,"v":0.44},{"x":0.838,"y":0.39,"r":0.077,"v":0.52},{"x":0.838,"y":0.39,"r":0.07,"v":0.6},{"x":0.838,"y":0.39,"r":0.061,"v":0.68},{"x":0.838,"y":0.39,"r":0.049,"v":0.76},{"x":0.838,"y":0.39,"r":0.028,"v":0.84},
{"x":0.827,"y":1.889,"r":0.115,"v":0.13},{"x":0.827,"y":1.889,"r":0.105,"v":0.19},{"x":0.827,"y":1.889,"r":0.098,"v":0.28},{"x":0.827,"y":1.889,"r":0.087,"v":0.36},{"x":0.827,"y":1.889,"r":0.079,"v":0.44},{"x":0.827,"y":1.889,"r":0.07,"v":0.52},{"x":0.827,"y":1.889,"r":0.059,"v":0.6},{"x":0.827,"y":1.889,"r":0.045,"v":0.66},{"x":0.827,"y":1.889,"r":0.021,"v":0.7},
{"x":2.01,"y":1.871,"r":0.115,"v":0.13},{"x":2.01,"y":1.871,"r":0.105,"v":0.19},{"x":2.01,"y":1.871,"r":0.098,"v":0.28},{"x":2.01,"y":1.871,"r":0.087,"v":0.36},{"x":2.01,"y":1.871,"r":0.079,"v":0.44},{"x":2.01,"y":1.871,"r":0.07,"v":0.52},{"x":2.01,"y":1.871,"r":0.059,"v":0.6},
{"x":1.857,"y":0.885,"r":0.115,"v":0.13},{"x":1.857,"y":0.885,"r":0.105,"v":0.19},{"x":1.857,"y":0.885,"r":0.098,"v":0.28},{"x":1.857,"y":0.885,"r":0.087,"v":0.36},{"x":1.857,"y":0.885,"r":0.079,"v":0.44},{"x":1.857,"y":0.885,"r":0.07,"v":0.52},{"x":1.857,"y":0.885,"r":0.059,"v":0.6},{"x":1.857,"y":0.885,"r":0.045,"v":0.68},{"x":1.857,"y":0.885,"r":0.024,"v":0.76},
{"x":1.805,"y":0.537,"r":0.115,"v":0.13},{"x":1.805,"y":0.537,"r":0.105,"v":0.19},{"x":1.805,"y":0.537,"r":0.098,"v":0.28},{"x":1.805,"y":0.537,"r":0.087,"v":0.36},{"x":1.805,"y":0.537,"r":0.079,"v":0.44},{"x":1.805,"y":0.537,"r":0.07,"v":0.52},{"x":1.805,"y":0.537,"r":0.059,"v":0.6},{"x":1.805,"y":0.537,"r":0.045,"v":0.68},{"x":1.805,"y":0.537,"r":0.024,"v":0.78},
{"x":0.981,"y":1.547,"r":0.091,"v":0.19},{"x":0.981,"y":1.547,"r":0.08,"v":0.28},{"x":0.981,"y":1.547,"r":0.068,"v":0.36},{"x":0.981,"y":1.547,"r":0.052,"v":0.44},{"x":0.981,"y":1.547,"r":0.035,"v":0.52},{"x":0.981,"y":1.547,"r":0.017,"v":0.6},
{"x":1.365,"y":1.603,"r":0.091,"v":0.19},{"x":1.365,"y":1.603,"r":0.08,"v":0.28},{"x":1.365,"y":1.603,"r":0.068,"v":0.36},{"x":1.365,"y":1.603,"r":0.052,"v":0.44},{"x":1.365,"y":1.603,"r":0.035,"v":0.5},{"x":1.365,"y":1.603,"r":0.017,"v":0.58},
{"x":1.208,"y":0.352,"r":0.091,"v":0.19},{"x":1.208,"y":0.352,"r":0.08,"v":0.28},{"x":1.208,"y":0.352,"r":0.068,"v":0.36},{"x":1.208,"y":0.352,"r":0.052,"v":0.44},{"x":1.208,"y":0.352,"r":0.035,"v":0.5},{"x":1.208,"y":0.352,"r":0.017,"v":0.58},
{"x":1.585,"y":1.983,"r":0.085,"v":0.19},{"x":1.585,"y":1.983,"r":0.07,"v":0.28},{"x":1.585,"y":1.983,"r":0.05,"v":0.36},{"x":1.585,"y":1.983,"r":0.03,"v":0.46},
{"x":1.585,"y":-0.007,"r":0.085,"v":0.19},{"x":1.585,"y":-0.007,"r":0.07,"v":0.28},{"x":1.585,"y":-0.007,"r":0.05,"v":0.36},
{"x":2.01,"y":0.666,"r":0.085,"v":0.19},{"x":2.01,"y":0.666,"r":0.07,"v":0.28},{"x":2.01,"y":0.666,"r":0.05,"v":0.36},{"x":2.01,"y":0.666,"r":0.03,"v":0.46},
{"x":1.846,"y":0.105,"r":0.112,"v":0.19},{"x":1.846,"y":0.105,"r":0.091,"v":0.28},{"x":1.846,"y":0.105,"r":0.07,"v":0.36},{"x":1.846,"y":0.105,"r":0.045,"v":0.44},{"x":1.846,"y":0.105,"r":0.017,"v":0.5}
]},"layer":[{"data":{"name":"grid"},"mark":{"type":"circle","size":1156,"opacity":1,"clip":true},"encoding":{"x":{"field":"x","type":"quantitative","scale":{"domain":[0,2],"nice":false,"zero":false},"axis":{"title":null,"values":[0,1,2],"grid":false,"labelExpr":"datum.value==0?'0':datum.value==1?'π':'2π'","labelFontSize":48,"labelFont":{"expr":"datum.value==1?'Liberation Serif':'Liberation Sans'"},"labelFontStyle":{"expr":"datum.value==1?'italic':'normal'"},"labelColor":"#262626","labelPadding":25,"labelFlush":false,"labelOverlap":false,"labelBound":false,"tickSize":-6,"tickColor":"#262626","domainColor":"#262626","domainWidth":1.5}},"y":{"field":"y","type":"quantitative","scale":{"domain":[0,2],"nice":false,"zero":false},"axis":{"title":null,"values":[0,1,2],"grid":false,"domain":false,"labelExpr":"datum.value==0?'0':datum.value==1?'π':'2π'","labelFontSize":48,"labelFont":{"expr":"datum.value==1?'Liberation Serif':'Liberation Sans'"},"labelFontStyle":{"expr":"datum.value==1?'italic':'normal'"},"labelColor":"#262626","labelPadding":21,"labelFlush":false,"labelOverlap":false,"labelBound":false,"tickSize":-6,"tickColor":"#262626"}},"color":{"field":"v","type":"quantitative","scale":{"domain":[0,0.1667,0.3333,0.5,0.6667,0.8333,1],"range":["#ff0000","#ffff00","#00ff00","#00ffff","#0000ff","#ff00ff","#ff0000"]},"legend":{"type":"gradient","title":null,"orient":"none","legendX":619,"legendY":0,"direction":"vertical","gradientLength":574,"gradientThickness":33,"gradientStrokeColor":"#262626","gradientStrokeWidth":1,"values":[0,1],"labelExpr":"''"}},"order":{"field":"v","sort":"descending"}}},{"data":{"name":"rings"},"mark":{"type":"circle","opacity":1,"clip":true},"encoding":{"x":{"field":"x","type":"quantitative"},"y":{"field":"y","type":"quantitative"},"size":{"field":"r","type":"quantitative","scale":{"type":"pow","exponent":2,"domain":[0,1],"range":[0,328329]},"legend":null},"color":{"field":"v","type":"quantitative"},"order":{"field":"v"}}},{"data":{"name":"barlabels"},"mark":{"type":"text","align":"left","baseline":"middle","fontSize":48,"font":"Liberation Sans","color":"#262626"},"encoding":{"x":{"field":"x","type":"quantitative"},"y":{"field":"y","type":"quantitative"},"text":{"field":"t"}}}]}
